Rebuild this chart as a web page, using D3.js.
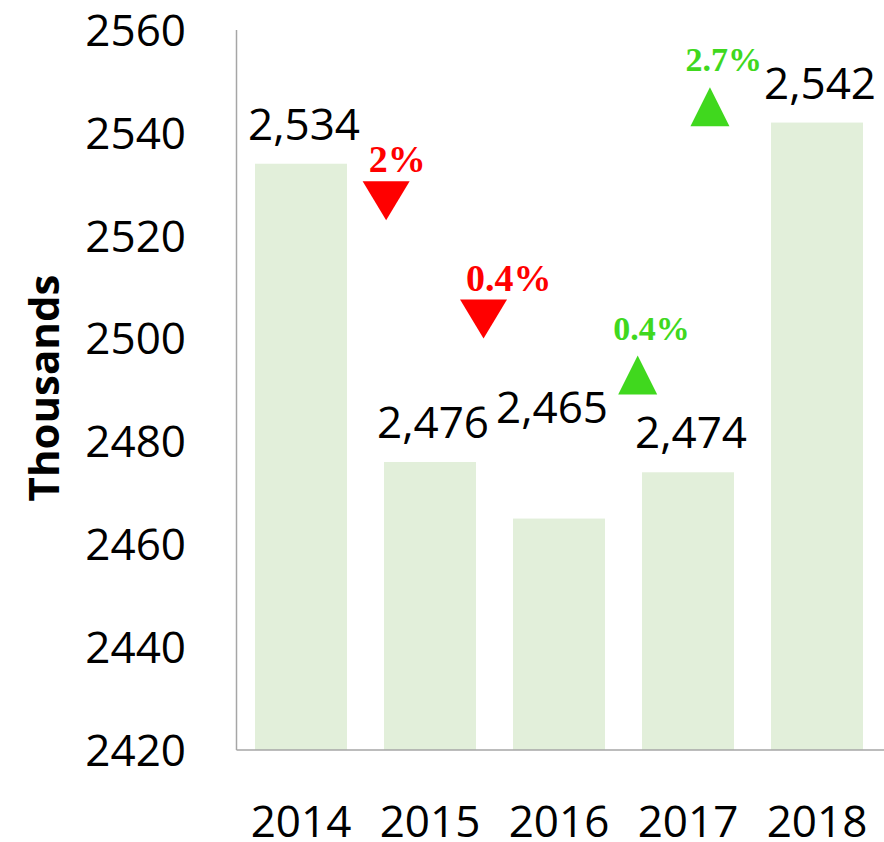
<!DOCTYPE html>
<html>
<head>
<meta charset="utf-8">
<script src="https://cdn.jsdelivr.net/npm/d3@7"></script>
<style>
  body { margin: 0; background: #fff; }
</style>
</head>
<body>
<script>
const width = 884;
const height = 842;

// chart data
const years = ["2014", "2015", "2016", "2017", "2018"];
const values = [2534, 2476, 2465, 2474, 2542];
const yTicks = [2420, 2440, 2460, 2480, 2500, 2520, 2540, 2560];

// year-on-year change annotations
const changeLabels = ["2%", "0.4%", "0.4%", "2.7%"];
const changeDirs = ["down", "down", "up", "up"];
// where each arrow sits: category index (fractional) and value level
const changeIndex = [0.66, 1.415, 2.61, 3.17];
const changeLevel = [2526.8, 2503.8, 2492.9, 2545.1];

const yScale = d3.scaleLinear()
    .domain([2420, 2560])
    .range([750, 30]);

const xScale = d3.scaleBand()
    .domain(years)
    .range([236.5, 881.5])
    .paddingInner(0.287)
    .paddingOuter(0.1435);

const idxScale = d3.scaleLinear()
    .domain([0, years.length - 1])
    .range([xScale(years[0]) + xScale.bandwidth() / 2,
            xScale(years[years.length - 1]) + xScale.bandwidth() / 2]);

const svg = d3.select("body")
    .append("svg")
    .attr("width", width)
    .attr("height", height);

const font = "'Open Sans', 'Noto Sans', sans-serif";

//bars
svg.selectAll(".bar")
    .data(values)
    .enter()
    .append("rect")
    .attr("class", "bar")
    .attr("x", (d, i) => xScale(years[i]))
    .attr("y", d => yScale(d))
    .attr("width", xScale.bandwidth())
    .attr("height", d => yScale(2420) - yScale(d))
    .attr("fill", "#e2efda");

//axes lines
svg.append("line")
    .attr("x1", 236.5).attr("x2", 236.5)
    .attr("y1", yScale(2560)).attr("y2", yScale(2420))
    .attr("stroke", "#a6a6a6")
    .attr("stroke-width", 1.5);

svg.append("line")
    .attr("x1", 236.5).attr("x2", width)
    .attr("y1", yScale(2420)).attr("y2", yScale(2420))
    .attr("stroke", "#a6a6a6")
    .attr("stroke-width", 1.5);

//y tick labels
svg.selectAll(".ytick")
    .data(yTicks)
    .enter()
    .append("text")
    .attr("class", "ytick")
    .attr("x", 186)
    .attr("y", d => yScale(d))
    .attr("dy", "0.36em")
    .attr("text-anchor", "end")
    .attr("font-family", font)
    .attr("font-size", 44)
    .attr("fill", "#000")
    .text(d => d);

//x labels
svg.selectAll(".xtick")
    .data(years)
    .enter()
    .append("text")
    .attr("class", "xtick")
    .attr("x", d => xScale(d) + xScale.bandwidth() / 2)
    .attr("y", 837)
    .attr("text-anchor", "middle")
    .attr("font-family", font)
    .attr("font-size", 44)
    .attr("fill", "#000")
    .text(d => d);

//axis title
svg.append("text")
    .attr("transform", "translate(59,388) rotate(-90)")
    .attr("text-anchor", "middle")
    .attr("font-family", font)
    .attr("font-weight", 700)
    .attr("font-size", 42)
    .attr("fill", "#000")
    .text("Thousands");

//value labels (2016 label is lifted to clear the neighbours)
const lift = { "2016": 72, "2016dx": -7 };
svg.selectAll(".vlabel")
    .data(values)
    .enter()
    .append("text")
    .attr("class", "vlabel")
    .attr("x", (d, i) => xScale(years[i]) + xScale.bandwidth() / 2 + (years[i] === "2016" ? lift["2016dx"] : 3))
    .attr("y", (d, i) => yScale(d) - 24 - (years[i] === "2016" ? lift["2016"] : 0))
    .attr("text-anchor", "middle")
    .attr("font-family", font)
    .attr("font-size", 44)
    .attr("fill", "#000")
    .text(d => d3.format(",")(d));

//change arrows
const red = "#ff0000";
const green = "#40d81e";

const changes = changeLabels.map((label, i) => ({
  label: label,
  dir: changeDirs[i],
  cx: idxScale(changeIndex[i]),
  cy: yScale(changeLevel[i])
}));

const tri = svg.selectAll(".change")
    .data(changes)
    .enter()
    .append("g")
    .attr("class", "change");

tri.append("path")
    .attr("d", d => {
      const w = d.dir === "down" ? 47 : 39;
      const h = 39;
      const top = d.cy - h / 2;
      if (d.dir === "down") {
        return d3.line()([[d.cx - w / 2, top], [d.cx + w / 2, top], [d.cx, top + h]]) + "Z";
      }
      return d3.line()([[d.cx, top], [d.cx + w / 2, top + h], [d.cx - w / 2, top + h]]) + "Z";
    })
    .attr("fill", d => d.dir === "down" ? red : green);

tri.append("text")
    .attr("x", d => d.dir === "down" ? d.cx - 23.5 + 6 : d.cx - 19.5 - 5)
    .attr("y", d => d.dir === "down" ? d.cy - 19.5 - 9 : d.cy - 19.5 - 16)
    .attr("text-anchor", "start")
    .attr("font-family", "'Liberation Serif', 'Times New Roman', serif")
    .attr("font-weight", "bold")
    .attr("font-size", d => d.dir === "down" ? 38 : 34)
    .attr("fill", d => d.dir === "down" ? red : green)
    .text(d => d.label);
</script>
</body>
</html>
